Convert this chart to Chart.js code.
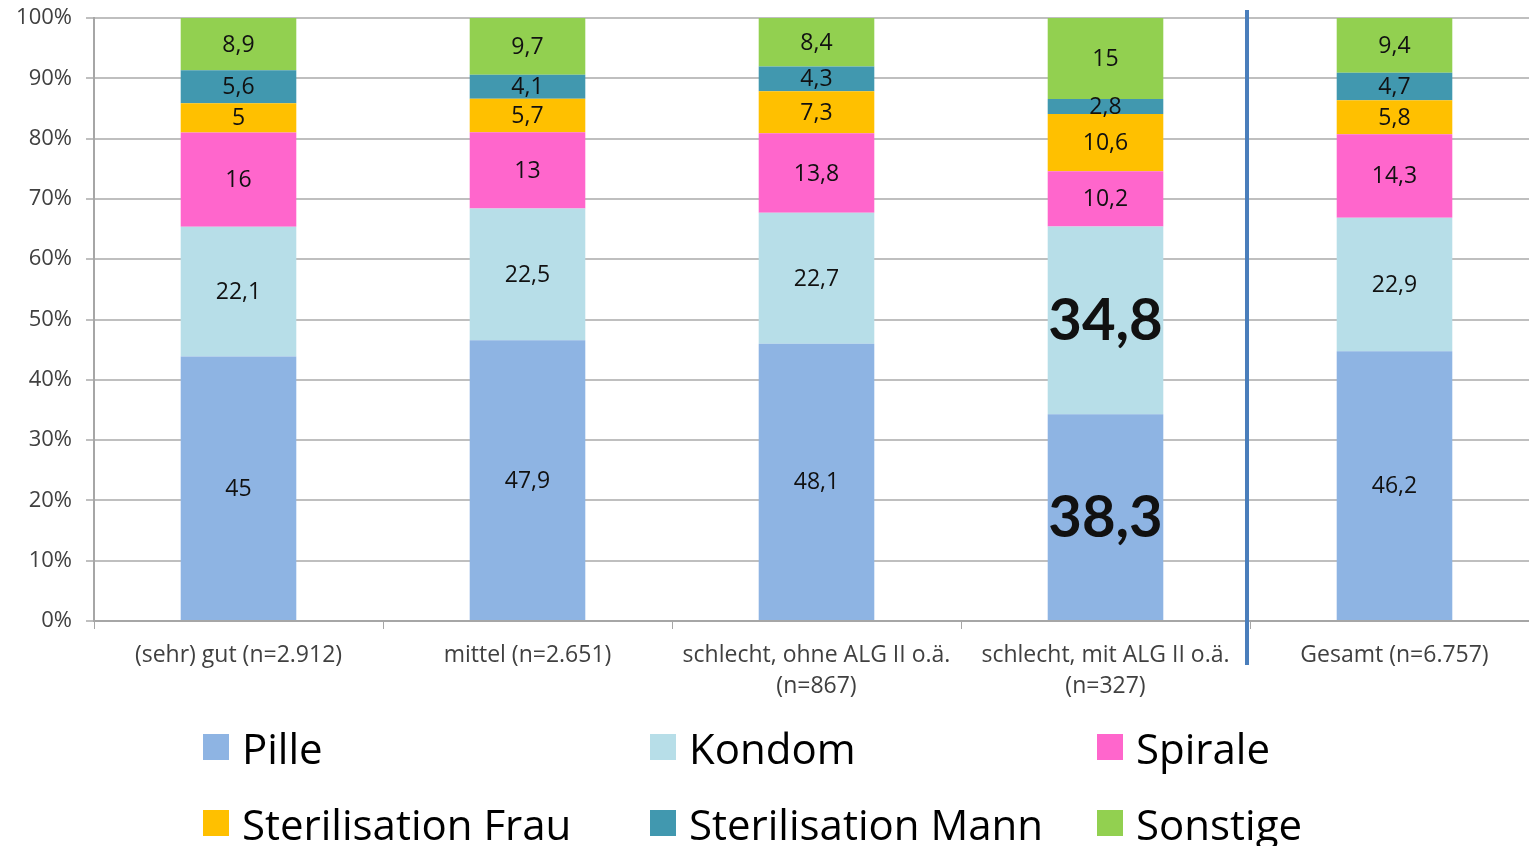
<!DOCTYPE html>
<html>
<head>
<meta charset="utf-8">
<script src="https://cdn.jsdelivr.net/npm/chart.js@4"></script>
<style>
  html, body { margin: 0; padding: 0; background: #fff; overflow: hidden; }
  #wrap { position: relative; width: 1539px; height: 846px; }
  #legend { position: absolute; left: 0; top: 0; width: 1529px; height: 846px; pointer-events: none;
            font-family: "Open Sans", Lato, sans-serif; font-size: 42px; color: #000; }
  .item { position: absolute; display: flex; align-items: center; white-space: nowrap; }
  .box { width: 26px; height: 26px; margin-right: 13px; }
</style>
</head>
<body>
<div id="wrap">
  <canvas id="myChart" width="1539" height="846"></canvas>
  <div id="legend"></div>
</div>
<script>
// Kategorien (Wohnsituation / Einkommen)
const categories = [
    ["(sehr) gut (n=2.912)"],
    ["mittel (n=2.651)"],
    ["schlecht, ohne ALG II o.ä.", "(n=867)"],
    ["schlecht, mit ALG II o.ä.", "(n=327)"],
    ["Gesamt (n=6.757)"]
];
const seriesNames = ["Pille", "Kondom", "Spirale", "Sterilisation Frau", "Sterilisation Mann", "Sonstige"];
const pille      = [45, 47.9, 48.1, 38.3, 46.2];
const kondom     = [22.1, 22.5, 22.7, 34.8, 22.9];
const spirale    = [16, 13, 13.8, 10.2, 14.3];
const sterilFrau = [5, 5.7, 7.3, 10.6, 5.8];
const sterilMann = [5.6, 4.1, 4.3, 2.8, 4.7];
const sonstige   = [8.9, 9.7, 8.4, 15, 9.4];
const yTicks = [0, 10, 20, 30, 40, 50, 60, 70, 80, 90, 100];

const colors = ["#8EB4E3", "#B7DEE8", "#FF66CC", "#FFC000", "#4198AF", "#92D050"];
const allSeries = [pille, kondom, spirale, sterilFrau, sterilMann, sonstige];
const fontFam = "'Open Sans', Lato, sans-serif";

// 100%-gestapelt: jede Kategorie auf Summe normieren
const totals = categories.map((c, i) => allSeries.reduce((s, arr) => s + arr[i], 0));

const datasets = allSeries.map((arr, k) => ({
    label: seriesNames[k],
    data: arr.map((v, i) => v / totals[i] * 100),
    raw: arr,
    backgroundColor: colors[k],
    borderWidth: 0,
    categoryPercentage: 1.0,
    barPercentage: 0.4
}));

const valueLabels = { // Werte mittig ins Segment
    id: 'valueLabels',
    afterDatasetsDraw(chart) {
        const ctx = chart.ctx;
        ctx.save();
        ctx.textAlign = 'center';
        ctx.textBaseline = 'middle';
        ctx.fillStyle = '#111';
        chart.data.datasets.forEach((ds, k) => {
            chart.getDatasetMeta(k).data.forEach((bar, i) => {
                const big = (i === 3 && k < 2);
                ctx.font = big ? "bold 58px Lato, 'Open Sans', sans-serif" : "23px " + fontFam;
                const txt = String(ds.raw[i]).replace('.', ',');
                ctx.fillText(txt, bar.x, (bar.y + bar.base) / 2 + 1);
            });
        });
        ctx.restore();
    }
};

const dividerLine = { // blaue Trennlinie vor "Gesamt"
    id: 'dividerLine',
    afterDraw(chart) {
        const xs = chart.scales.x;
        const x = (xs.getPixelForValue(3) + xs.getPixelForValue(4)) / 2 - 3;
        const ctx = chart.ctx;
        ctx.save();
        ctx.strokeStyle = '#4A7EBB';
        ctx.lineWidth = 4;
        ctx.beginPath();
        ctx.moveTo(x, chart.chartArea.top - 8);
        ctx.lineTo(x, chart.chartArea.bottom + 44);
        ctx.stroke();
        ctx.restore();
    }
};

const ctx = document.querySelector("#myChart");
new Chart(ctx, {
    type: 'bar',
    data: { labels: categories, datasets: datasets },
    plugins: [valueLabels, dividerLine],
    options: {
        responsive: false,
        animation: false,
        layout: { padding: { top: 18, left: 0, right: 0, bottom: 0 } },
        plugins: { legend: { display: false }, tooltip: { enabled: false } },
        scales: {
            x: {
                stacked: true,
                grid: { display: true, drawOnChartArea: false, drawTicks: true, tickLength: 8, color: '#a6a6a6', lineWidth: 1, offset: true },
                border: { display: true, color: '#a6a6a6', width: 2 },
                ticks: { color: '#404040', font: { family: fontFam, size: 23, lineHeight: 1.35 }, padding: 11, maxRotation: 0, autoSkip: false },
                afterFit(scale) { scale.height = 225; }
            },
            y: {
                stacked: true,
                min: 0, max: 100,
                afterBuildTicks(scale) { scale.ticks = yTicks.map(v => ({ value: v })); },
                grid: { color: '#bfbfbf', lineWidth: 2, tickLength: 8, drawTicks: true },
                border: { display: true, color: '#a6a6a6', width: 2 },
                ticks: { color: '#404040', font: { family: fontFam, size: 22 }, padding: 14, callback: v => v + '%' },
                afterFit(scale) { scale.width = 94; scale.paddingTop = 0; scale.paddingBottom = 0; }
            }
        }
    }
});

// Legende: 3 Spalten, 2 Zeilen
const legend = document.getElementById('legend');
const colX = [203, 650, 1097];
const rowY = [747, 823];
seriesNames.forEach((name, k) => {
    const el = document.createElement('div');
    el.className = 'item';
    el.style.left = colX[k % 3] + 'px';
    el.style.top = (rowY[Math.floor(k / 3)] - 25) + 'px';
    el.style.height = '50px';
    el.innerHTML = '<span class="box" style="background:' + colors[k] + '"></span><span>' + name + '</span>';
    legend.appendChild(el);
});
</script>
</body>
</html>
